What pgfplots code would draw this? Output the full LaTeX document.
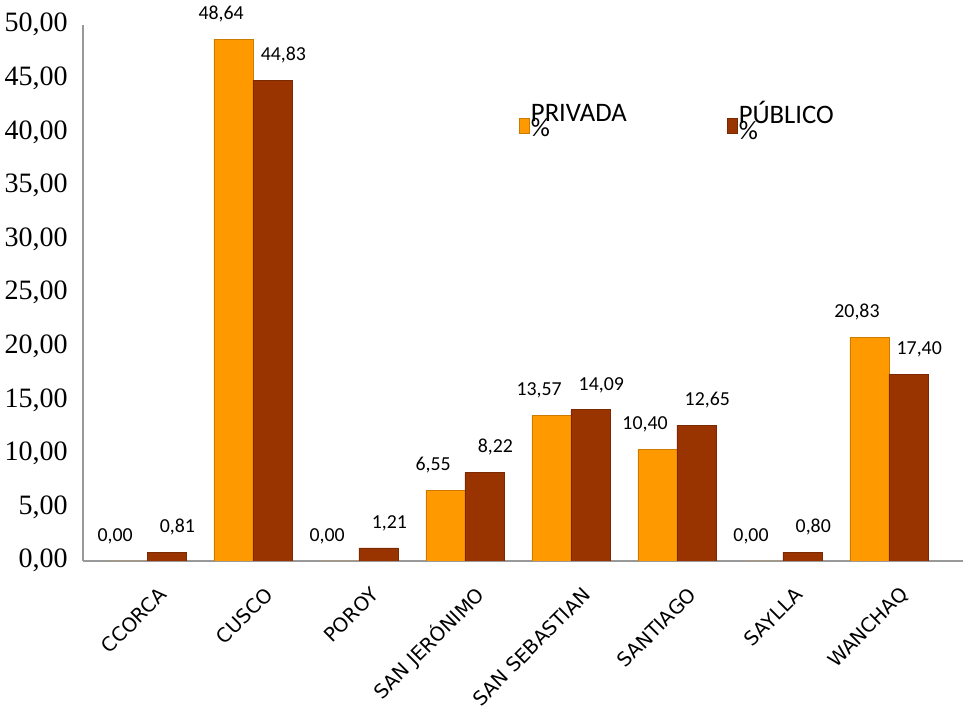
\documentclass[border=0pt]{standalone}
\usepackage{pgfplots}
\pgfplotsset{compat=1.18}
\usepackage{fontspec}
\setmainfont{Liberation Serif}
\newfontfamily\calibri{Carlito}
\newfontfamily\dejavu{DejaVu Sans}
\definecolor{priv}{HTML}{FF9900}
\definecolor{pub}{HTML}{993300}
\begin{document}
\begin{tikzpicture}
\begin{axis}[
  scale only axis, width=643pt, height=392pt,
  ybar=0pt, bar width=28.5pt,
  ymin=0, ymax=50, ytick distance=5,
  xmin=-0.6, xmax=7.7,
  xtick={0,...,7},
  xticklabels={CCORCA,CUSCO,POROY,SAN JERÓNIMO,SAN SEBASTIAN,SANTIAGO,SAYLLA,WANCHAQ},
  axis lines*=left,
  axis line style={draw=gray!80, line width=1.5pt},
  major tick length=0pt,
  /pgf/number format/.cd, use comma, fixed, fixed zerofill, precision=2, assume math mode=true,
  /pgfplots/.cd,
  yticklabel style={font=\fontsize{20.5}{20.5}\selectfont, anchor=east, xshift=-8pt},
  xticklabel style={font=\dejavu\fontsize{14.3}{14.3}\selectfont, rotate=45, anchor=east, yshift=-24pt, xshift=-4pt},
  nodes near coords,
  every node near coord/.append style={font=\calibri\fontsize{14.5}{14.5}\selectfont, black, yshift=9pt},
  legend style={draw=none, fill=none, at={(0.49,0.865)}, anchor=north west, legend columns=2,
    font=\calibri\fontsize{19.5}{19.5}\selectfont, nodes={align=left, inner sep=1pt},
    /tikz/every even column/.append style={column sep=72pt}},
  legend image code/.code={\fill[#1] (0pt,-9pt) rectangle (7.5pt,2pt);},
]
\addplot[fill=priv, draw=priv!80!black, every node near coord/.append style={xshift=-9pt}] coordinates {(0,0) (1,48.64) (2,0) (3,6.55) (4,13.57) (5,10.40) (6,0) (7,20.83)};
\addplot[fill=pub, draw=pub!80!black, every node near coord/.append style={xshift=8pt}] coordinates {(0,0.81) (1,44.83) (2,1.21) (3,8.22) (4,14.09) (5,12.65) (6,0.80) (7,17.40)};
\legend{PRIVADA\\[-8pt]\%, PÚBLICO\\[-8pt]\%}
\end{axis}
\path (current axis.north west) ++(0,18pt);
\end{tikzpicture}
\end{document}
